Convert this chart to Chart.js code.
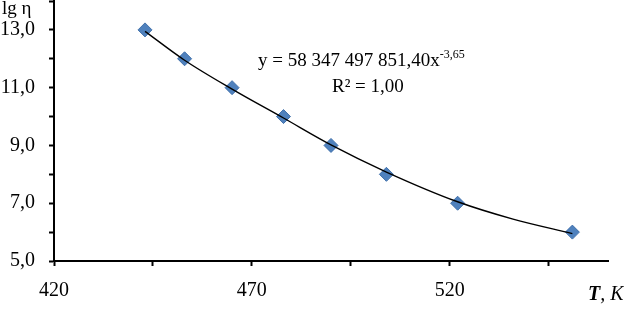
<!DOCTYPE html>
<html>
<head>
<meta charset="utf-8">
<script src="https://cdn.jsdelivr.net/npm/chart.js@4/dist/chart.umd.min.js"></script>
<style>
    html, body { margin: 0; padding: 0; background: #fff; }
    #wrap { width: 624px; height: 312px; position: relative; }
</style>
</head>
<body>
<div id="wrap"><canvas id="myChart"></canvas></div>
<script>
// temperature T, K and lg of viscosity
const tempK = [443, 453, 465, 478, 490, 504, 522, 551];
const lgEta = [13, 12, 11, 10, 9, 8, 7, 6];

// power trendline
const trendX = [443, 453, 465, 478, 490, 504, 522, 536, 551];
const trendY = [12.95, 11.95, 10.95, 9.95, 9.02, 8.08, 7.05, 6.45, 5.95];

const xTickValues = [420, 445, 470, 495, 520, 545];
const xTickLabels = ['420', '', '470', '', '520', ''];
const yTickLabels = ['5,0', '', '7,0', '', '9,0', '', '11,0', '', '13,0', ''];

const serif = 'Liberation Serif';

// equation, R² and axis titles
const textPlugin = {
    id: 'texts',
    afterDraw(chart) {
        const ctx = chart.ctx;
        ctx.save();
        ctx.fillStyle = '#000';
        ctx.textBaseline = 'alphabetic';

        ctx.font = '19px "' + serif + '"';
        ctx.textAlign = 'left';
        const eq = 'y = 58 347 497 851,40x';
        ctx.fillText(eq, 258, 66);
        const w = ctx.measureText(eq).width;
        ctx.font = '12px "' + serif + '"';
        ctx.fillText('-3,65', 258 + w, 58);

        ctx.font = '19px "' + serif + '"';
        ctx.fillText('R² = 1,00', 332, 92);

        ctx.font = '19px "' + serif + '"';
        ctx.fillText('lg η', 2, 14);

        ctx.font = 'italic bold 20px "' + serif + '"';
        ctx.fillText('T', 588, 300);
        const tw = ctx.measureText('T').width;
        ctx.font = 'italic 20px "' + serif + '"';
        ctx.fillText(', K', 588 + tw, 300);
        ctx.restore();
    }
};

const points = tempK.map((t, i) => ({x: t, y: lgEta[i]}));
const trend = trendX.map((t, i) => ({x: t, y: trendY[i]}));

const chartSettings = {
    type: 'scatter',
    data: {
        datasets: [
            {
                data: trend,
                showLine: true,
                borderColor: '#000',
                borderWidth: 1.4,
                pointRadius: 0,
                cubicInterpolationMode: 'monotone',
                fill: false
            },
            {
                data: points,
                pointStyle: 'rectRot',
                pointRadius: 7,
                backgroundColor: '#4F81BD',
                borderColor: '#3F6FAA',
                borderWidth: 1
            }
        ]
    },
    options: {
        responsive: true,
        maintainAspectRatio: false,
        animation: false,
        layout: {
            autoPadding: false,
            padding: {left: 0, top: 1, right: 16, bottom: 0}
        },
        plugins: {
            legend: {display: false},
            tooltip: {enabled: false}
        },
        scales: {
            x: {
                type: 'linear',
                min: 420,
                max: 560,
                afterBuildTicks: function(scale) {
                    scale.ticks = xTickValues.map(v => ({value: v}));
                },
                afterFit: function(scale) {
                    scale.height = 51;
                    scale.paddingLeft = 0;
                    scale.paddingRight = 0;
                },
                ticks: {
                    autoSkip: false,
                    maxRotation: 0,
                    color: '#000',
                    padding: 13,
                    font: {family: serif, size: 20},
                    callback: function(value, index) {
                        return xTickLabels[index];
                    }
                },
                grid: {
                    drawOnChartArea: false,
                    drawTicks: true,
                    tickLength: 5,
                    tickWidth: 2,
                    color: '#000'
                },
                border: {color: '#000', width: 2}
            },
            y: {
                min: 5,
                max: 14,
                afterFit: function(scale) {
                    scale.width = 54;
                    scale.paddingTop = 0;
                    scale.paddingBottom = 0;
                },
                ticks: {
                    stepSize: 1,
                    autoSkip: false,
                    color: '#000',
                    padding: 14,
                    font: {family: serif, size: 20},
                    callback: function(value, index) {
                        return yTickLabels[index];
                    }
                },
                grid: {
                    drawOnChartArea: false,
                    drawTicks: true,
                    tickLength: 5,
                    tickWidth: 2,
                    color: '#000'
                },
                border: {color: '#000', width: 2}
            }
        }
    },
    plugins: [textPlugin]
};

window.onload = function() {
    var ctx = document.getElementById("myChart").getContext("2d");
    var myChart = new Chart(ctx, chartSettings);
};
</script>
</body>
</html>
